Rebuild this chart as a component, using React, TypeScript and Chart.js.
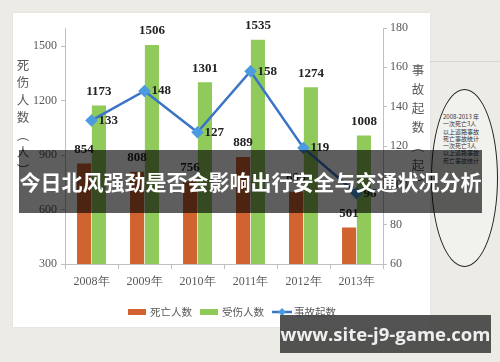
import React, { useEffect, useRef } from "react";
import { Chart, registerables } from "chart.js";

Chart.register(...registerables);

const categories = ["2008年", "2009年", "2010年", "2011年", "2012年", "2013年"];
const deaths = [854, 808, 756, 889, 698, 501];
const injured = [1173, 1506, 1301, 1535, 1274, 1008];
const accidents = [133, 148, 127, 158, 119, 96];
const leftTicks = [300, 600, 900, 1200, 1500];
const rightTicks = [60, 80, 100, 120, 140, 160, 180];
const seriesNames = ["死亡人数", "受伤人数", "事故起数"];
const leftTitle = ["死", "伤", "人", "数", "︵", "人", "︶"];
const rightTitle = ["事", "故", "起", "数", "︵", "起", "︶"];
const bannerText = "今日北风强劲是否会影响出行安全与交通状况分析";
const watermarkText = "www.site-j9-game.com";
const noteLines = ["2008-2013 年", "一次死亡3人", "以上道路事故", "死亡事故统计", "一次死亡3人", "以上道路事故", "死亡事故统计"];

const RED = "#d0632f";
const GREEN = "#8fca5b";
const BLUE = "#3b74c6";
const POINT = "#4c9be0";
const AXIS = "#bfbfbf";
const TXT = "#595959";
const SERIF = "'Liberation Serif', 'Times New Roman', serif";
const CJK = "'Noto Sans CJK SC', sans-serif";

const extrasPlugin = {
  id: "extras",
  afterDatasetsDraw(chart: any) {
    const ctx = chart.ctx;
    ctx.save();
    ctx.font = `bold 13px ${SERIF}`;
    ctx.fillStyle = "#222";
    chart.data.datasets.forEach((ds: any, i: number) => {
      const meta = chart.getDatasetMeta(i);
      meta.data.forEach((el: any, j: number) => {
        const v = ds.data[j];
        ctx.textBaseline = "middle";
        if (ds.type === "line") {
          ctx.textAlign = "left";
          ctx.fillText(String(v), el.x + 7, el.y);
        } else {
          ctx.textAlign = "center";
          ctx.fillText(String(v), el.x, el.y - 14);
        }
      });
    });
    ctx.font = `12.5px ${CJK}`;
    ctx.fillStyle = TXT;
    ctx.textAlign = "center";
    ctx.textBaseline = "middle";
    leftTitle.forEach((c, i) => ctx.fillText(c, 10, 52 + i * 17.5));
    rightTitle.forEach((c, i) => ctx.fillText(c, 405, 57 + i * 19));
    ctx.font = `10.5px ${CJK}`;
    const ly = 299;
    const sw = 18;
    const items = chart.data.datasets.map((ds: any) => ({
      label: ds.label,
      color: ds.type === "line" ? ds.borderColor : ds.backgroundColor,
      line: ds.type === "line",
    }));
    let total = 0;
    items.forEach((it: any, i: number) => {
      total += sw + 4 + ctx.measureText(it.label).width + (i < items.length - 1 ? 8 : 0);
    });
    let x = 219 - total / 2;
    items.forEach((it: any) => {
      if (it.line) {
        ctx.strokeStyle = it.color;
        ctx.lineWidth = 2.5;
        ctx.beginPath();
        ctx.moveTo(x, ly);
        ctx.lineTo(x + sw + 2, ly);
        ctx.stroke();
        ctx.fillStyle = POINT;
        ctx.beginPath();
        const cx = x + sw / 2 + 1;
        ctx.moveTo(cx, ly - 4);
        ctx.lineTo(cx + 4, ly);
        ctx.lineTo(cx, ly + 4);
        ctx.lineTo(cx - 4, ly);
        ctx.closePath();
        ctx.fill();
      } else {
        ctx.fillStyle = it.color;
        ctx.fillRect(x, ly - 3, sw, 6);
      }
      x += sw + 4;
      ctx.fillStyle = TXT;
      ctx.textAlign = "left";
      ctx.fillText(it.label, x, ly + 0.5);
      x += ctx.measureText(it.label).width + 8;
    });
    ctx.restore();
  },
};

export default function App() {
  const ref = useRef<HTMLCanvasElement | null>(null);

  useEffect(() => {
    if (!ref.current) return;
    const tickFont = { family: SERIF, size: 12 };
    const plain = (v: any) => String(v);
    const chart = new Chart(ref.current, {
      type: "bar",
      data: {
        labels: categories,
        datasets: [
          {
            type: "bar",
            label: seriesNames[0],
            data: deaths,
            backgroundColor: RED,
            yAxisID: "y",
            order: 2,
            categoryPercentage: 0.56,
            barPercentage: 0.95,
          } as any,
          {
            type: "bar",
            label: seriesNames[1],
            data: injured,
            backgroundColor: GREEN,
            yAxisID: "y",
            order: 2,
            categoryPercentage: 0.56,
            barPercentage: 0.95,
          } as any,
          {
            type: "line",
            label: seriesNames[2],
            data: accidents,
            borderColor: BLUE,
            backgroundColor: POINT,
            pointBackgroundColor: POINT,
            pointBorderColor: POINT,
            pointStyle: "rectRot",
            pointRadius: 4.5,
            borderWidth: 2.5,
            yAxisID: "y1",
            order: 0,
            tension: 0,
          } as any,
        ],
      },
      options: {
        animation: false,
        responsive: false,
        maintainAspectRatio: false,
        layout: { padding: { top: 15, left: 0, right: 0, bottom: 0 } },
        plugins: { legend: { display: false }, tooltip: { enabled: false } },
        scales: {
          x: {
            offset: true,
            grid: { display: true, drawOnChartArea: false, drawTicks: true, tickLength: 5, color: AXIS, offset: true },
            border: { color: AXIS, width: 1 },
            ticks: { font: tickFont, color: TXT, padding: 6, maxRotation: 0 },
            afterFit: (s: any) => { s.height = 63; },
          },
          y: {
            position: "left",
            min: 300,
            max: 1600,
            afterBuildTicks: (s: any) => { s.ticks = leftTicks.map((v) => ({ value: v })); },
            grid: { display: true, drawOnChartArea: false, drawTicks: true, tickLength: 4, color: AXIS },
            border: { color: AXIS, width: 1 },
            ticks: { font: tickFont, color: TXT, padding: 4, callback: plain },
            afterFit: (s: any) => { s.width = 52; },
          },
          y1: {
            position: "right",
            min: 60,
            max: 180,
            afterBuildTicks: (s: any) => { s.ticks = rightTicks.map((v) => ({ value: v })); },
            grid: { display: true, drawOnChartArea: false, drawTicks: true, tickLength: 4, color: AXIS },
            border: { color: AXIS, width: 1 },
            ticks: { font: tickFont, color: TXT, padding: 3, callback: plain },
            afterFit: (s: any) => { s.width = 47; },
          },
        },
      },
      plugins: [extrasPlugin],
    });
    return () => chart.destroy();
  }, []);

  return (
    <div
      style={{
        position: "absolute",
        left: 0,
        top: 0,
        width: 500,
        height: 362,
        background: "#ecebe6",
        overflow: "hidden",
      }}
    >
      <div style={{ position: "absolute", left: 430, top: 61, width: 70, height: 1, background: "#d6d6d2" }} />
      <div
        style={{
          position: "absolute",
          left: 431,
          top: 89,
          width: 67,
          height: 178,
          borderRadius: "50%",
          border: "1.2px solid #222",
          background: "#f1f1ee",
          boxSizing: "border-box",
        }}
      />
      <div
        style={{
          position: "absolute",
          left: 443,
          top: 113,
          width: 52,
          fontFamily: CJK,
          fontSize: 6,
          lineHeight: "7.3px",
          color: "#333",
          whiteSpace: "nowrap",
        }}
      >
        {noteLines.map((l, i) => (
          <div key={i}>{l}</div>
        ))}
      </div>
      <div
        style={{
          position: "absolute",
          left: 13,
          top: 13,
          width: 417,
          height: 314,
          background: "#ffffff",
          boxShadow: "0 0 2px rgba(0,0,0,0.08)",
        }}
      >
        <canvas ref={ref} width={417} height={314} style={{ display: "block", width: 417, height: 314 }} />
      </div>
      <div
        style={{
          position: "absolute",
          left: 19,
          top: 150,
          width: 463,
          height: 63,
          background: "rgba(0,0,0,0.63)",
          color: "#ffffff",
          fontFamily: CJK,
          fontWeight: 700,
          fontSize: 21,
          lineHeight: "63px",
          textAlign: "center",
          whiteSpace: "nowrap",
        }}
      >
        {bannerText}
      </div>
      <div
        style={{
          position: "absolute",
          left: 280,
          top: 315,
          width: 211,
          height: 38,
          background: "rgba(68,68,68,0.92)",
          color: "#efefef",
          fontFamily: "'Open Sans', sans-serif",
          fontWeight: 700,
          fontSize: 18.5,
          lineHeight: "38px",
          textAlign: "center",
          whiteSpace: "nowrap",
        }}
      >
        {watermarkText}
      </div>
    </div>
  );
}
